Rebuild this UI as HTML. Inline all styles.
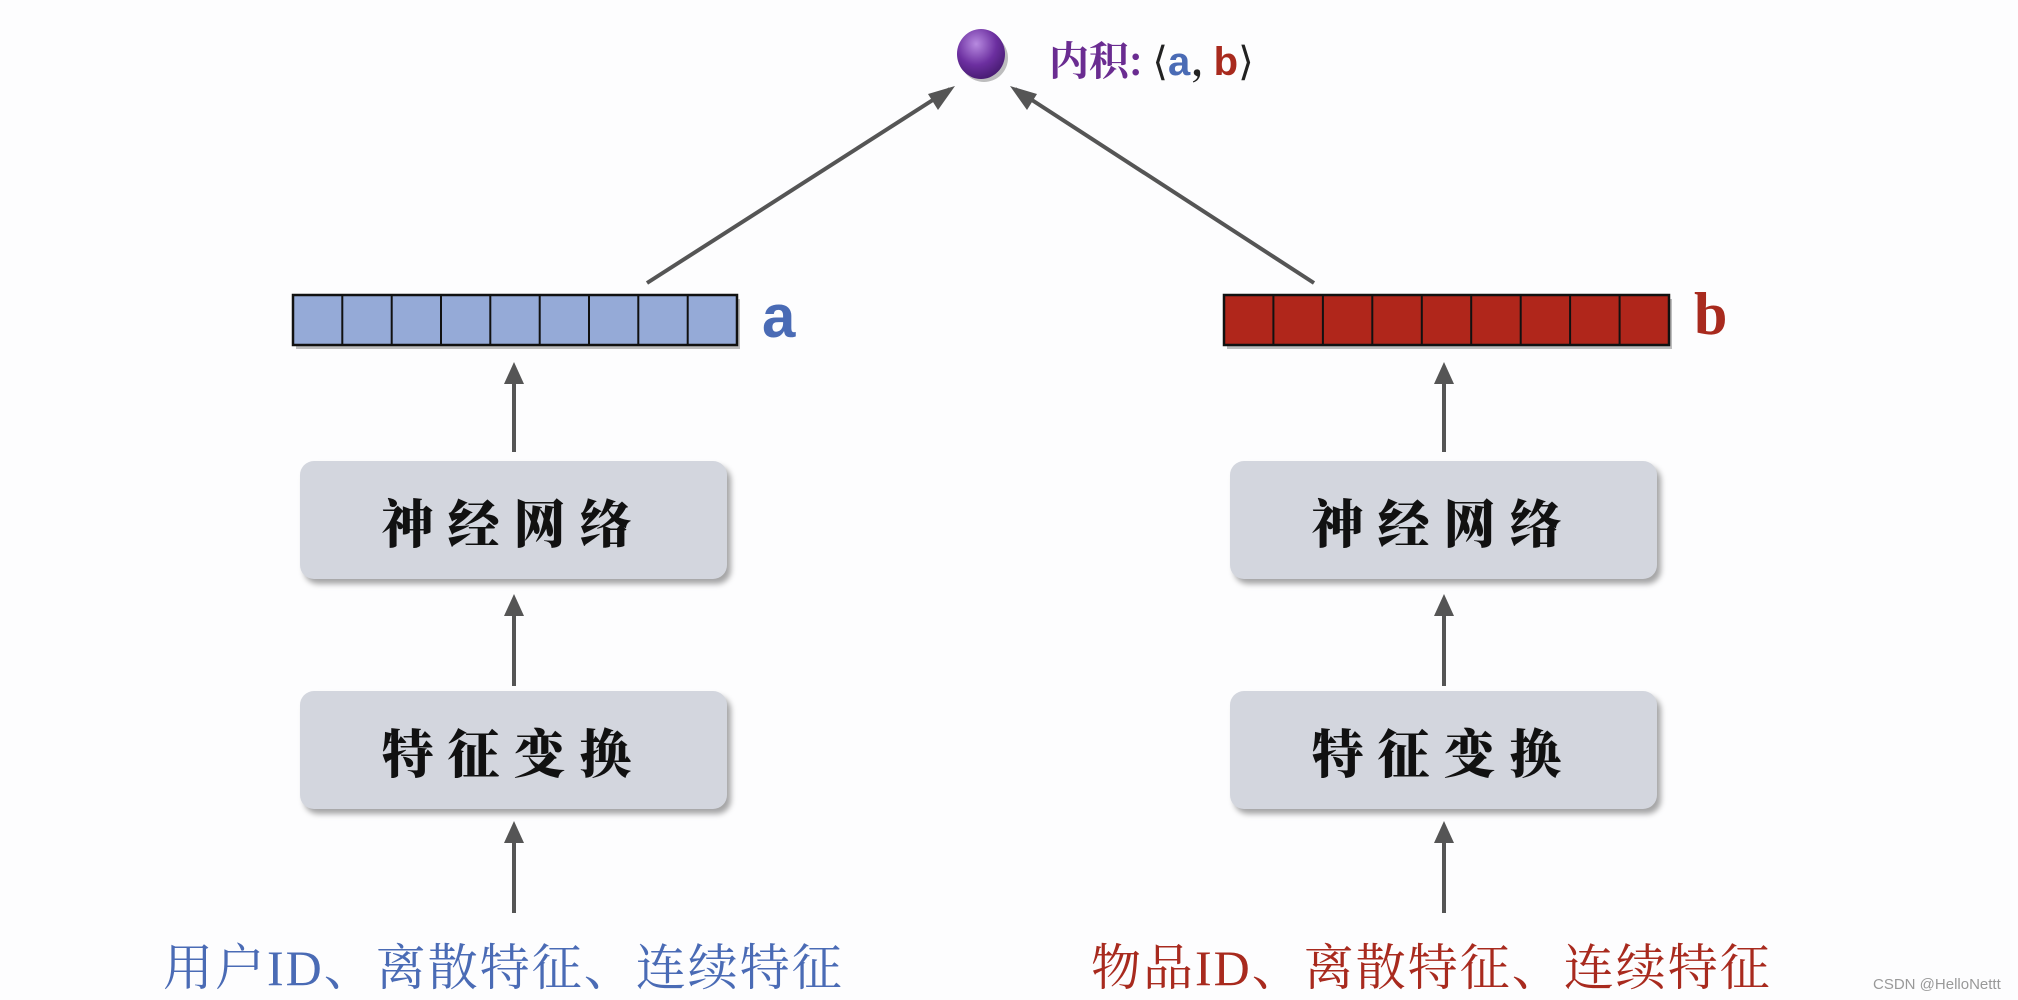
<!DOCTYPE html>
<html><head><meta charset="utf-8"><style>
body{margin:0;width:2018px;height:1000px;background:#fdfdfe;position:relative;overflow:hidden;font-family:"Liberation Serif","Noto Serif CJK SC",serif}
.box{position:absolute;width:427px;height:118px;background:#d3d6de;border-radius:14px;box-shadow:4px 5px 6px rgba(0,0,0,.35);display:flex;align-items:center;justify-content:center;font-family:"Noto Serif CJK SC",serif;font-weight:900;font-size:52px;letter-spacing:14px;color:#111}
.t{position:absolute;white-space:nowrap}
</style></head><body>
<svg width="2018" height="1000" style="position:absolute;left:0;top:0">
<defs>
<marker id="ar" markerWidth="10" markerHeight="10" refX="8" refY="5" orient="auto" markerUnits="userSpaceOnUse" viewBox="0 0 10 10"><path d="M0,0 L10,5 L0,10 L3,5z" fill="#555"/></marker>
<radialGradient id="bg" cx="40%" cy="30%" r="70%"><stop offset="0" stop-color="#b78ae0"/><stop offset="0.6" stop-color="#6c2fa0"/><stop offset="1" stop-color="#4a1d75"/></radialGradient>
</defs>
<g stroke="#555" stroke-width="4" marker-end="url(#ar)" fill="none">
<line x1="647" y1="283" x2="950" y2="89" style="marker-end:none"/>
<line x1="1314" y1="283" x2="1015" y2="89" style="marker-end:none"/>
</g>
<g fill="#555">
<polygon points="955,86 928,94 938,110"/>
<polygon points="1010,86 1037,94 1027,110"/>
</g>
<g stroke="#555" stroke-width="4">
<line x1="514" y1="452" x2="514" y2="375"/><line x1="514" y1="686" x2="514" y2="605"/><line x1="514" y1="913" x2="514" y2="832"/>
<line x1="1444" y1="452" x2="1444" y2="375"/><line x1="1444" y1="686" x2="1444" y2="605"/><line x1="1444" y1="913" x2="1444" y2="832"/>
</g>
<g fill="#555">
<polygon points="514,362 504,384 524,384"/><polygon points="514,594 504,616 524,616"/><polygon points="514,821 504,843 524,843"/>
<polygon points="1444,362 1434,384 1454,384"/><polygon points="1444,594 1434,616 1454,616"/><polygon points="1444,821 1434,843 1454,843"/>
</g>
<ellipse cx="984" cy="58" rx="24" ry="24" fill="#000" opacity=".25"/>
<ellipse cx="981" cy="54" rx="24" ry="25" fill="url(#bg)"/>
<g transform="translate(293,295)">
<rect x="3" y="4" width="444" height="50" fill="#000" opacity=".25"/>
<rect width="444" height="50" fill="#95aad7" stroke="#111" stroke-width="2.5"/>
<g stroke="#111" stroke-width="2"><line x1="49.3" y1="0" x2="49.3" y2="50"/><line x1="98.7" y1="0" x2="98.7" y2="50"/><line x1="148" y1="0" x2="148" y2="50"/><line x1="197.3" y1="0" x2="197.3" y2="50"/><line x1="246.7" y1="0" x2="246.7" y2="50"/><line x1="296" y1="0" x2="296" y2="50"/><line x1="345.3" y1="0" x2="345.3" y2="50"/><line x1="394.7" y1="0" x2="394.7" y2="50"/></g>
</g>
<g transform="translate(1224,295)">
<rect x="3" y="4" width="445" height="50" fill="#000" opacity=".25"/>
<rect width="445" height="50" fill="#b0261b" stroke="#111" stroke-width="2.5"/>
<g stroke="#111" stroke-width="2"><line x1="49.4" y1="0" x2="49.4" y2="50"/><line x1="98.9" y1="0" x2="98.9" y2="50"/><line x1="148.3" y1="0" x2="148.3" y2="50"/><line x1="197.8" y1="0" x2="197.8" y2="50"/><line x1="247.2" y1="0" x2="247.2" y2="50"/><line x1="296.7" y1="0" x2="296.7" y2="50"/><line x1="346.1" y1="0" x2="346.1" y2="50"/><line x1="395.6" y1="0" x2="395.6" y2="50"/></g>
</g>
</svg>
<div class="t" style="left:1049px;top:30px;font-size:40px;color:#6a2c91;font-family:'Noto Serif CJK SC',serif;font-weight:700">内积: <span style="color:#222;font-weight:400">⟨</span><span style="color:#4a6bb5;font-family:'Liberation Sans',sans-serif">a</span><span style="color:#222">,</span> <span style="color:#a82a1e;font-family:'Liberation Sans',sans-serif">b</span><span style="color:#222;font-weight:400">⟩</span></div>
<div class="t" style="left:762px;top:282px;font-size:60px;font-weight:700;color:#4a6bb5;font-family:'Liberation Sans',sans-serif">a</div>
<div class="t" style="left:1694px;top:280px;font-size:60px;font-weight:700;color:#a82a1e;font-family:'Liberation Serif',serif">b</div>
<div class="box" style="left:300px;top:461px">神经网络</div>
<div class="box" style="left:300px;top:691px">特征变换</div>
<div class="box" style="left:1230px;top:461px">神经网络</div>
<div class="box" style="left:1230px;top:691px">特征变换</div>
<div class="t" style="left:163px;top:928px;font-size:50px;color:#4a6bb5;font-family:'Liberation Serif','Noto Serif CJK SC',serif;letter-spacing:2px">用户ID、离散特征、连续特征</div>
<div class="t" style="left:1091px;top:928px;font-size:50px;color:#a82a1e;font-family:'Liberation Serif','Noto Serif CJK SC',serif;letter-spacing:2px">物品ID、离散特征、连续特征</div>
<div class="t" style="left:1873px;top:976px;font-size:15px;color:#999;font-family:'Liberation Sans',sans-serif">CSDN @HelloNettt</div>
</body></html>
